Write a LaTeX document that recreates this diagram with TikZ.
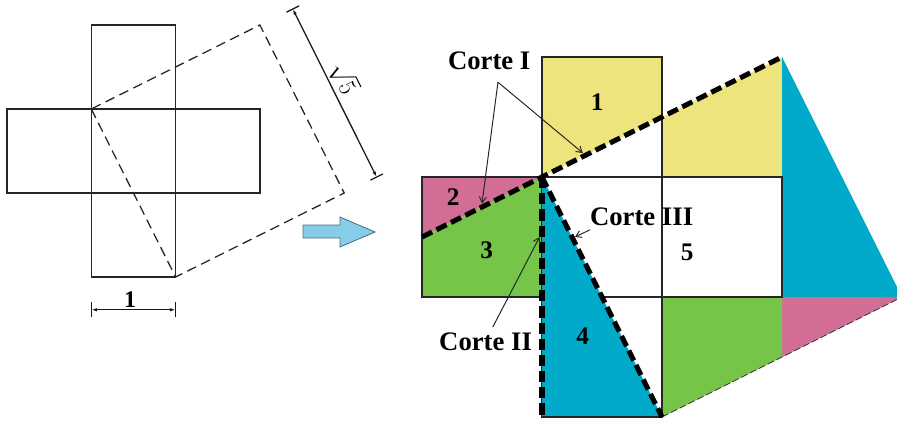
\documentclass[tikz,border=0pt]{standalone}
\usepackage{fontspec}
\setmainfont{Liberation Serif}
\usetikzlibrary{arrows.meta,calc}
\definecolor{pyellow}{RGB}{238,228,125}
\definecolor{ppink}{RGB}{210,110,150}
\definecolor{pgreen}{RGB}{118,196,72}
\definecolor{pblue}{RGB}{0,170,200}
\definecolor{arrowfill}{RGB}{135,205,232}
\definecolor{arrowedge}{RGB}{70,110,130}
\begin{document}
\begin{tikzpicture}[
  grid/.style={black!85, line width=0.9pt},
  cut/.style={black, line width=3.6pt, dash pattern=on 8pt off 3.5pt},
  lbl/.style={font=\bfseries\fontsize{19}{22}\selectfont, inner sep=0pt},
  num/.style={font=\bfseries\fontsize{18}{21}\selectfont, inner sep=0pt},
  pointer/.style={black!85, line width=0.7pt, -{Straight Barb[length=4pt,width=5pt]}},
  dim/.style={black!90, line width=0.9pt}]

\useasboundingbox (0,0) rectangle (22.425,10.5);

\begin{scope}[shift={(0.175cm,5.675cm)}, x=2.1075cm, y=2.1cm]
\coordinate (a1) at (1,1); \coordinate (a2) at (2,-1); \coordinate (a3) at (4,0); \coordinate (a4) at (3,2);
\draw[grid] (0,0) rectangle (3,1);
\draw[grid] (1,-1) rectangle (2,2);
\draw[black!85, line width=0.9pt, dash pattern=on 7pt off 4pt] (a1) -- (a2) -- (a3) -- (a4) -- cycle;

\coordinate (d1) at (3.39,2.19); \coordinate (d2) at (4.385,0.19);
\draw[dim, {Latex[length=4pt,width=2.5pt]}-{Latex[length=4pt,width=2.5pt]}] (d1) -- (d2);
\draw[dim] ($(d1)!5pt!90:(d2)$) -- ($(d1)!5pt!-90:(d2)$);
\draw[dim] ($(d2)!5pt!90:(d1)$) -- ($(d2)!5pt!-90:(d1)$);
\node[rotate=-63.43, anchor=south, inner sep=1.5pt, font=\fontsize{18}{21}\selectfont] (root5) at ($(d1)!0.45!(d2)$) {$\sqrt{5}$};

\coordinate (e1) at (1,-1.39); \coordinate (e2) at (2,-1.39);
\draw[dim, {Latex[length=4pt,width=2.5pt]}-{Latex[length=4pt,width=2.5pt]}] (e1) -- (e2);
\draw[dim] ($(e1)+(0,-0.09)$) -- ($(e1)+(0,0.09)$);
\draw[dim] ($(e2)+(0,-0.09)$) -- ($(e2)+(0,0.09)$);
\node[font=\bfseries\fontsize{17}{20}\selectfont, inner sep=0pt] (one) at (1.46,-1.27) {1};
\end{scope}

\filldraw[fill=arrowfill, draw=arrowedge, line width=0.6pt] (7.575,4.875) -- (8.5,4.875) -- (8.5,5.075) -- (9.375,4.7) -- (8.5,4.325) -- (8.5,4.55) -- (7.575,4.55) -- cycle;

\begin{scope}[shift={(10.55cm,3.075cm)}, x=3cm, y=3cm]
\coordinate (p1) at (1,1); \coordinate (p2) at (2,-1); \coordinate (p3) at (4,0); \coordinate (p4) at (3,2);
\coordinate (q1) at (0,0.5); \coordinate (q2) at (1,-1);

\fill[pyellow] (p1) -- (1,2) -- (2,2) -- (2,1.5) -- cycle;
\fill[pyellow] (2,1) -- (2,1.5) -- (p4) -- (3,1) -- cycle;
\fill[ppink] (q1) -- (0,1) -- (p1) -- cycle;
\fill[ppink] (3,0) -- (p3) -- (3,-0.5) -- cycle;
\fill[pgreen] (0,0) -- (q1) -- (p1) -- (1,0) -- cycle;
\fill[pgreen] (2,0) -- (3,0) -- (3,-0.5) -- (p2) -- cycle;
\fill[pblue] (p4) -- (3,0) -- (p3) -- cycle;

\draw[grid] (0,0) rectangle (3,1);
\draw[grid] (1,-1) rectangle (2,2);
\fill[pblue] (p1) -- (q2) -- (p2) -- cycle;
\draw[grid] (q2) -- (p2);
\draw[black!80, line width=0.6pt, dash pattern=on 5pt off 2pt] (p2) -- (p3);

\draw[cut] (q1) -- (p4);
\draw[cut] (p1) -- (q2);
\draw[cut] (p1) -- (p2);

\node[num] (n1) at (1.46,1.625) {1};
\node[num] (n2) at (0.26,0.83) {2};
\node[num] (n3) at (0.54,0.39) {3};
\node[num] (n4) at (1.34,-0.33) {4};
\node[num] (n5) at (2.21,0.37) {5};

\node[lbl] (c1) at (0.56,1.97) {Corte I};
\node[lbl] (c2) at (0.53,-0.37) {Corte II};
\node[lbl] (c3) at (1.83,0.67) {Corte III};

\coordinate (s1) at (0.633,1.79);
\coordinate (t1) at (0.5,0.78); \coordinate (t2) at (1.34,1.2);
\draw[pointer] (s1) -- (t1);
\draw[pointer] (s1) -- (t2);
\coordinate (s2) at (0.59,-0.25); \coordinate (t3) at (0.98,0.5);
\draw[pointer] (s2) -- (t3);
\coordinate (s3) at (1.4,0.56); \coordinate (t4) at (1.275,0.5);
\draw[pointer] (s3) -- (t4);
\end{scope}

\end{tikzpicture}
\end{document}
